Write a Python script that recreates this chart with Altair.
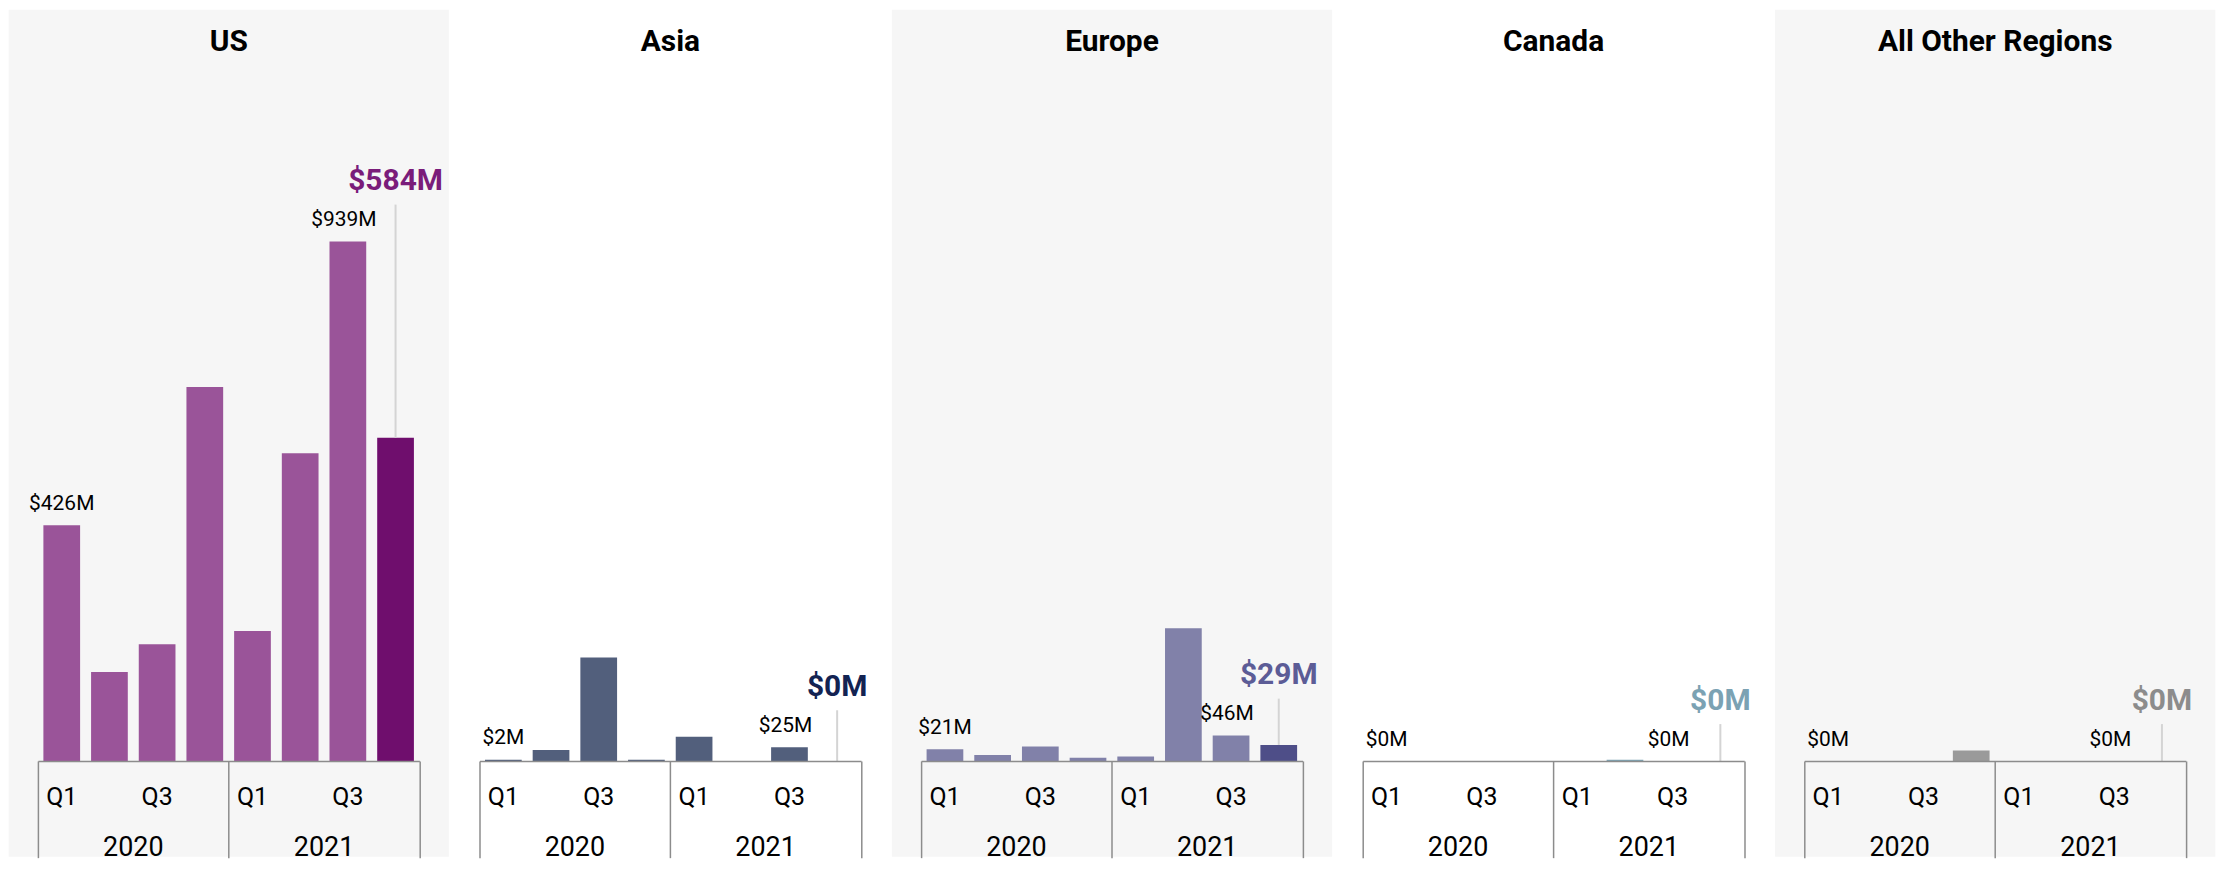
import altair as alt
import pandas as pd

# ---------------- data ----------------
periods = ["2020 Q1", "2020 Q2", "2020 Q3", "2020 Q4",
           "2021 Q1", "2021 Q2", "2021 Q3", "2021 Q4"]
years = ["2020", "2020", "2020", "2020", "2021", "2021", "2021", "2021"]
year_list = ["2020", "2021"]
regions = ["US", "Asia", "Europe", "Canada", "All Other Regions"]

us_values = [426, 161, 211, 676, 235, 556, 939, 584]
asia_values = [2, 20, 187, 2, 44, 0, 25, 0]
europe_values = [21, 11, 26, 6, 8, 240, 46, 29]
canada_values = [0, 0, 0, 0, 0, 2, 0, 0]
other_values = [0, 0, 0, 19, 0, 0, 0, 0]
all_values = [us_values, asia_values, europe_values, canada_values, other_values]

# ---------------- styles ----------------
bar_colors = ["#9a5499", "#525f7c", "#8181a9", "#7ba3b5", "#9a9a9a"]
last_colors = ["#6f0e6d", "#1b2a57", "#4e4e88", "#6f97aa", "#8a8a8a"]
label_colors = ["#7a1c7a", "#132352", "#5c5c96", "#7ba2b3", "#8c8c8c"]
panel_fills = ["#f6f6f6", "#ffffff", "#f6f6f6", "#ffffff", "#f6f6f6"]

FONT = "Roboto"
AXIS_GRAY = "#8c8c8c"
W = 382.7      # plot width of a panel
L = 29.3       # panel margin left of plot
R = 29.6       # panel margin right of plot
D = 1200       # y domain max ($M)
H = 666        # plot height
TOP = 87.5     # panel background above plot
BOTTOM = 96    # panel background below plot

q_axis = alt.Axis(
    orient="bottom", title=None,
    labelExpr="(indexof(datum.value, 'Q1') >= 0 || indexof(datum.value, 'Q3') >= 0) ? substring(datum.value, 5) : ''",
    ticks=False, domain=True, domainColor=AXIS_GRAY, domainWidth=1.5,
    labelFont=FONT, labelFontSize=25, labelColor="#000000",
    labelPadding=43.5, labelBaseline="alphabetic", labelAngle=0,
    grid=False, zindex=1,
)
qscale = alt.Scale(domain=periods, paddingInner=0.23, paddingOuter=0.115)
yscale = alt.Scale(domain=[0, D], nice=False, zero=True)
yscale_year = alt.Scale(domain=year_list, paddingInner=0, paddingOuter=0)


def panel(i):
    vals = all_values[i]
    ref = max(vals[6], vals[7])
    df = pd.DataFrame({
        "period": periods,
        "year": years,
        "value": vals,
        "color": [bar_colors[i]] * 7 + [last_colors[i]],
        "label": [f"${v:.0f}M" for v in vals],
        "ref": [ref] * 8,
        "idx": list(range(8)),
    })

    x = alt.X("period:N", sort=periods, scale=qscale, axis=q_axis, title=None)
    y = alt.Y("value:Q", scale=yscale, axis=None, title=None)

    base = alt.Chart(df)

    bg = alt.Chart(alt.Data(values=[{}])).mark_rect(color=panel_fills[i]).encode(
        x=alt.value(-L), x2=alt.value(W + R),
        y=alt.value(-TOP), y2=alt.value(H + BOTTOM),
    )
    bars = base.mark_bar().encode(
        x=x, y=y, color=alt.Color("color:N", scale=None)
    )
    first_lbl = base.transform_filter("datum.idx == 0").mark_text(
        font=FONT, fontSize=21, color="#000000", baseline="alphabetic", dy=-15.5
    ).encode(x=x, y=y, text="label:N")
    q3_lbl = base.transform_filter("datum.idx == 6").mark_text(
        font=FONT, fontSize=21, color="#000000", baseline="alphabetic", dy=-15.5, dx=-4
    ).encode(x=x, y=y, text="label:N")
    leader = base.transform_filter("datum.idx == 7").mark_rule(
        color="#d4d4d4", strokeWidth=2, y2Offset=-37
    ).encode(x=x, y=y, y2=alt.Y2("ref:Q"))
    big_lbl = base.transform_filter("datum.idx == 7").mark_text(
        font=FONT, fontSize=30, fontWeight="bold", color=label_colors[i],
        baseline="alphabetic", dy=-51.5
    ).encode(
        x=x,
        y=alt.Y("ref:Q", scale=yscale, axis=None, title=None),
        text="label:N",
    )

    inner = alt.layer(bg, bars, first_lbl, q3_lbl, leader, big_lbl)

    yr = alt.Chart(pd.DataFrame({"year": year_list}))
    year_ticks = yr.mark_bar(opacity=0).encode(
        x=alt.X("year:N", scale=yscale_year, title=None, axis=alt.Axis(
            orient="bottom", title=None, labels=False, domain=False,
            ticks=True, tickBand="extent", tickSize=97, tickColor=AXIS_GRAY,
            tickWidth=1.5, grid=False, zindex=1,
        ))
    )
    year_labels = yr.mark_bar(opacity=0).encode(
        x=alt.X("year:N", scale=yscale_year, title=None, axis=alt.Axis(
            orient="bottom", title=None, ticks=False, domain=False,
            labelFont=FONT, labelFontSize=27, labelColor="#000000",
            labelPadding=95.2, labelBaseline="alphabetic", labelAngle=0,
            grid=False, zindex=1,
        ))
    )

    return alt.layer(inner, year_ticks, year_labels).resolve_scale(
        x="independent"
    ).properties(
        width=W, height=H,
        title=alt.TitleParams(
            text=regions[i], font=FONT, fontSize=30, fontWeight="bold",
            color="#000000", anchor="middle", frame="bounds",
            baseline="alphabetic", offset=-71,
        ),
    )


chart = alt.hconcat(*[panel(i) for i in range(5)], spacing=0).properties(
    padding={"left": 0, "top": 0, "right": 0, "bottom": 0},
    background="white",
).configure_view(stroke=None).configure(font=FONT)

chart.save("out.html", embed_options={"renderer": "svg", "actions": False})
